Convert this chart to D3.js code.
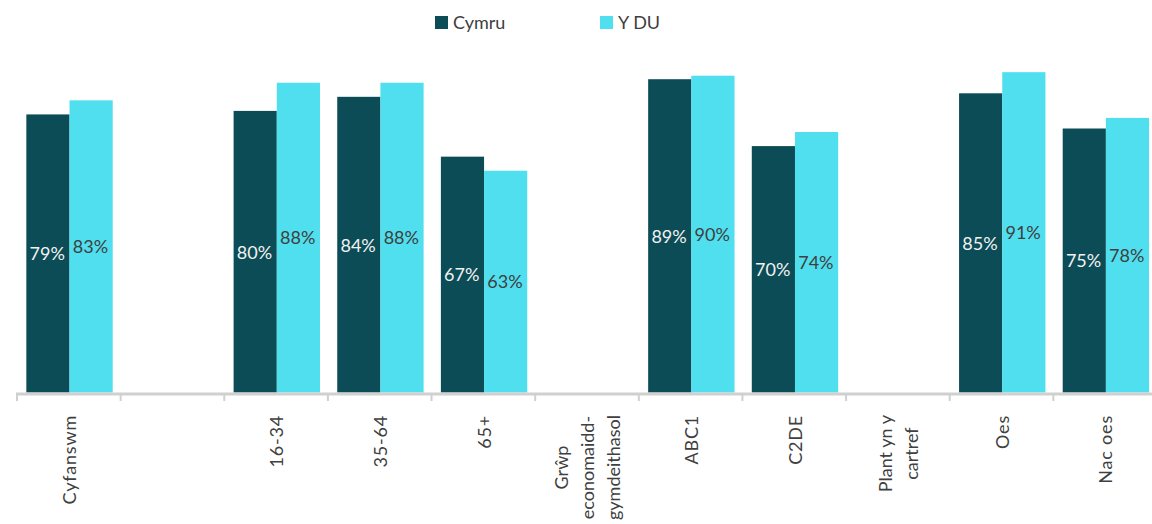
<!DOCTYPE html>
<html><head><meta charset="utf-8">
<script src="https://cdn.jsdelivr.net/npm/d3@7"></script>
<style>
html,body{margin:0;padding:0;background:#fff;}
svg{display:block;font-family:Lato,"Open Sans",sans-serif;}
</style></head>
<body>
<svg id="chart" width="1152" height="524"></svg>
<script>
const categories = ["Cyfanswm", "", "16-34", "35-64", "65+", "Grŵp\neconomaidd-\ngymdeithasol", "ABC1", "C2DE", "Plant yn y\ncartref", "Oes", "Nac oes"];
const seriesNames = ["Cymru", "Y DU"];
const cymru = [79, null, 80, 84, 67, null, 89, 70, null, 85, 75];
const ydu   = [83, null, 88, 88, 63, null, 90, 74, null, 91, 78];

const colors = {"Cymru": "#0b4c56", "Y DU": "#4fdfee"};
const labelColors = {"Cymru": "#f2f2f2", "Y DU": "#404040"};

const svg = d3.select("#chart");
const idx = categories.map((d, i) => i);
const x = d3.scaleBand().domain(idx).range([17, 1157]).paddingInner(0).paddingOuter(0);
const x1 = d3.scaleBand().domain(seriesNames).range([0, x.bandwidth()]).paddingInner(0).paddingOuter(0.2);
const y = d3.scaleLinear().domain([0, 100]).range([392.5, 40.5]);

const data = [];
idx.forEach(i => {
  [["Cymru", cymru[i]], ["Y DU", ydu[i]]].forEach(([s, v]) => {
    if (v != null) data.push({i, s, v});
  });
});

// bars
svg.append("g").selectAll("rect").data(data).join("rect")
  .attr("x", d => x(d.i) + x1(d.s) + 0.7)
  .attr("width", x1.bandwidth())
  .attr("y", d => y(d.v))
  .attr("height", d => y(0) - y(d.v))
  .attr("fill", d => colors[d.s]);

// value labels
svg.append("g").selectAll("text").data(data).join("text")
  .attr("x", d => x(d.i) + x1(d.s) + x1.bandwidth() / 2)
  .attr("y", d => (y(d.v) + y(0)) / 2)
  .attr("dy", "0.38em")
  .attr("text-anchor", "middle")
  .attr("font-size", 18)
  .attr("fill", d => labelColors[d.s])
  .text(d => d.v + "%");

// axis
const axisY = 394;
const axisG = svg.append("g");
axisG.append("line")
  .attr("x1", x.range()[0] - 1).attr("x2", x.range()[1])
  .attr("y1", axisY).attr("y2", axisY)
  .attr("stroke", "#d0d0d0").attr("stroke-width", 3);
const tickPos = idx.map(i => x(i)).concat([x.range()[1]]);
axisG.selectAll("line.tick").data(tickPos).join("line")
  .attr("class", "tick")
  .attr("x1", d => d).attr("x2", d => d)
  .attr("y1", axisY).attr("y2", axisY + 7)
  .attr("stroke", "#d0d0d0").attr("stroke-width", 2);

// category labels (rotated)
const lineH = 26;
const labelTop = 415;
idx.forEach(i => {
  const lines = categories[i].split("\n");
  if (!categories[i]) return;
  const n = lines.length;
  const cx = x(i) + x.bandwidth() / 2 + 1;
  const g = svg.append("g").attr("transform", `translate(${cx},${labelTop}) rotate(-90)`);
  const t = g.append("text")
    .attr("text-anchor", "middle")
    .attr("font-size", 18)
    .attr("letter-spacing", n > 1 ? 0 : 0.8)
    .attr("fill", "#404040");
  lines.forEach((ln, k) => {
    t.append("tspan")
      .attr("x", 0)
      .attr("y", (k - (n - 1) / 2) * lineH)
      .attr("dy", "0.35em")
      .text(ln);
  });
  let maxW = 0;
  t.selectAll("tspan").each(function () { maxW = Math.max(maxW, this.getComputedTextLength()); });
  t.selectAll("tspan").attr("x", -maxW / 2);
});

// legend
const legendItems = [{s: "Cymru", x: 435}, {s: "Y DU", x: 600}];
const lg = svg.append("g");
legendItems.forEach(d => {
  lg.append("rect").attr("x", d.x).attr("y", 16).attr("width", 13).attr("height", 13).attr("fill", colors[d.s]);
  lg.append("text").attr("x", d.x + 18).attr("y", 22.5).attr("dy", "0.35em")
    .attr("font-size", 18).attr("fill", "#404040").text(d.s);
});
</script>
</body></html>
